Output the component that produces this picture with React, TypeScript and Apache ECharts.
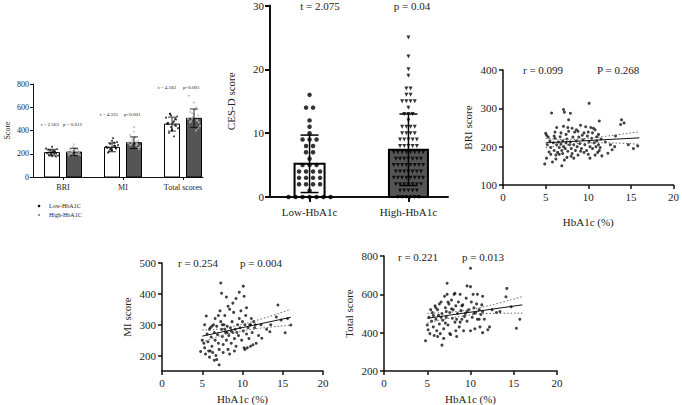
import React, { useEffect, useRef } from 'react';
import * as echarts from 'echarts';

// ---------- Panel A: grouped bar chart ----------
const GROUPS_A = ['BRI', 'MI', 'Total scores'];
const LOW_MEANS_A = [210, 255, 455];
const HIGH_MEANS_A = [215, 295, 505];
const LOW_SD_A = [28, 38, 60];
const HIGH_SD_A = [32, 50, 80];
const LOW_DOTS_A = [
  [210, 225, 195, 240, 205, 180, 215, 230, 200, 190, 220, 245, 185, 212, 198, 235, 175, 260, 205, 218],
  [255, 270, 240, 300, 250, 230, 265, 285, 245, 220, 335, 260, 275, 240, 295, 210, 250, 310, 235, 262],
  [455, 480, 430, 520, 460, 400, 500, 540, 440, 380, 470, 510, 420, 545, 350, 465, 495, 410, 530, 445],
];
const HIGH_DOTS_A = [
  [215, 230, 200, 250, 210, 190, 225, 240, 205, 195, 280, 185, 220, 235, 200, 260, 210, 190, 225, 245],
  [295, 310, 280, 340, 290, 260, 320, 300, 275, 250, 430, 305, 285, 360, 270, 330, 240, 300, 390, 280],
  [505, 530, 480, 580, 500, 440, 550, 600, 470, 420, 640, 520, 490, 560, 400, 515, 470, 700, 540, 485],
];
const STATS_A = [
  ['t = 2.563', 'p = 0.012'],
  ['t = 4.335', 'p<0.001'],
  ['t = 4.183', 'p<0.001'],
];

// ---------- Panel B: CES-D ----------
const CESD_GROUPS = ['Low-HbA1c', 'High-HbA1c'];
const CESD_MEANS = [5.2, 7.4];
const CESD_SD = [4.5, 5.6];
const CESD_LOW = [16, 14, 14, 12, 11, 10, 9, 9, 9, 8, 8, 7, 7, 6, 5, 5, 5, 4, 4, 4, 4, 3, 3, 3, 3, 2, 2, 2, 2, 1, 0, 0, 0, 0, 0, 0, 0];
const CESD_HIGH = [25, 22, 20, 19, 17, 17, 16, 16, 15, 15, 15, 15, 14, 13, 13, 13, 12, 11, 11, 11, 11, 10, 10, 10, 10, 9, 9, 9, 9, 9,
  8, 8, 8, 8, 8, 7, 7, 7, 7, 7, 7, 7, 7, 6, 6, 6, 6, 6, 6, 6, 5, 5, 5, 5, 5, 5, 5, 5, 4, 4, 4, 4, 4, 4, 4,
  3, 3, 3, 3, 3, 3, 3, 3, 2, 2, 2, 2, 2, 2, 2, 1, 1, 1, 1, 1, 0, 0, 0, 0, 0, 0];

// ---------- Panel C: BRI vs HbA1c ----------
const BRI_POINTS = [
  [10.1, 313], [5.7, 288], [7.1, 297], [7.2, 290], [7.9, 287], [7.7, 270], [13.9, 270], [13.8, 258], [11.3, 267], [5.0, 235],
  [5.1, 230], [6.3, 250], [7.1, 253], [7.6, 250], [8.1, 248], [9.7, 252], [10.3, 250], [10.6, 248], [10.8, 244], [9.1, 256],
  [8.8, 240], [8.4, 238], [6.1, 238], [6.8, 236], [7.4, 232], [9.5, 236], [10.0, 238], [11.2, 232], [11.0, 226], [13.2, 228],
  [4.9, 155], [5.1, 170], [5.8, 160], [6.2, 168], [6.9, 150], [7.2, 165], [7.5, 172], [8.0, 175], [8.3, 170], [8.8, 178],
  [9.5, 185], [10.2, 170], [10.8, 178], [11.6, 176], [12.3, 183], [12.8, 192], [14.7, 205], [15.3, 195], [15.8, 202], [12.6, 205],
  [13.1, 200], [5.2, 205], [5.5, 215], [5.6, 198], [5.9, 210], [6.0, 190], [6.1, 222], [6.3, 205], [6.4, 185], [6.5, 212],
  [6.6, 198], [6.7, 226], [6.8, 207], [6.9, 190], [7.0, 215], [7.1, 200], [7.3, 195], [7.4, 210], [7.5, 220], [7.6, 188],
  [7.8, 205], [7.9, 212], [8.0, 195], [8.2, 225], [8.3, 205], [8.5, 190], [8.6, 215], [8.7, 200], [8.9, 225], [9.0, 208],
  [9.2, 195], [9.4, 218], [9.6, 205], [9.8, 190], [9.9, 228], [10.1, 212], [10.2, 200], [10.4, 222], [10.5, 195], [10.7, 210],
  [10.9, 200], [11.0, 215], [11.2, 205], [11.3, 190], [11.5, 220], [11.4, 198], [12.0, 212], [6.2, 178], [6.6, 180], [7.0, 182],
  [5.4, 186], [5.6, 180], [8.1, 182], [9.1, 188], [10.0, 180], [11.1, 185], [7.7, 240], [8.6, 244], [9.3, 230], [10.5, 236],
  [6.0, 228], [5.3, 225], [14.2, 262],
];
const BRI_FIT = [[5, 210], [16, 223]];
const BRI_UPPER = [[5, 222], [7, 219], [9.5, 221], [12, 227], [16, 239]];
const BRI_LOWER = [[5, 198], [7, 203], [9.5, 209], [12, 210], [16, 206]];

// ---------- Panel D: MI vs HbA1c ----------
const MI_POINTS = [
  [7.3, 435], [10.1, 425], [7.4, 402], [9.6, 405], [10.2, 392], [8.0, 390], [14.4, 364], [5.5, 328], [15.3, 274], [16.0, 299],
  [13.4, 277], [12.4, 256], [6.8, 187], [4.8, 213], [5.0, 250], [5.2, 240], [5.3, 225], [5.4, 205], [5.6, 270], [5.7, 245],
  [5.8, 215], [5.9, 195], [6.0, 290], [6.1, 260], [6.2, 230], [6.3, 210], [6.4, 300], [6.5, 275], [6.6, 250], [6.7, 200],
  [6.8, 295], [6.9, 268], [7.0, 240], [7.1, 220], [7.2, 345], [7.3, 310], [7.4, 285], [7.5, 262], [7.6, 236], [7.7, 300],
  [7.8, 330], [7.9, 275], [8.0, 250], [8.1, 295], [8.2, 220], [8.3, 265], [8.4, 350], [8.5, 290], [8.6, 240], [8.7, 310],
  [8.8, 275], [8.9, 340], [9.0, 255], [9.1, 285], [9.2, 230], [9.4, 300], [9.5, 265], [9.7, 290], [9.9, 250], [10.0, 310],
  [10.1, 280], [10.2, 225], [10.3, 300], [10.4, 330], [10.5, 270], [10.6, 225], [10.7, 290], [10.8, 255], [11.0, 300], [11.1, 320],
  [11.2, 275], [11.3, 235], [11.4, 310], [11.5, 290], [11.7, 240], [12.0, 265], [12.3, 300], [13.0, 285], [13.5, 300], [14.2, 325],
  [14.8, 315], [15.6, 320], [6.2, 295], [6.6, 320], [7.0, 330], [7.5, 300], [8.2, 360], [8.8, 370], [9.2, 385], [9.8, 345],
  [10.5, 355], [6.0, 215], [6.5, 185], [7.1, 170], [7.6, 210], [8.4, 205], [9.0, 215], [10.3, 220], [11.0, 230], [5.3, 300],
  [5.9, 285], [8.6, 280], [9.3, 275], [9.6, 320], [10.9, 300], [11.6, 300], [7.8, 285], [8.1, 275],
];
const MI_FIT = [[5, 263], [16, 324]];
const MI_UPPER = [[5, 283], [7, 286], [9, 295], [12, 316], [16, 350]];
const MI_LOWER = [[5, 243], [7, 262], [9, 275], [12, 288], [16, 298]];

// ---------- Panel E: Total vs HbA1c ----------
const TOTAL_POINTS = [
  [10.0, 736], [7.3, 658], [9.6, 644], [10.0, 640], [14.2, 631], [14.1, 587], [11.4, 590], [4.8, 358], [6.7, 335], [15.7, 470],
  [15.3, 423], [5.0, 440], [5.1, 415], [5.2, 480], [5.3, 395], [5.5, 460], [5.6, 505], [5.7, 430], [5.8, 385], [5.9, 540],
  [6.0, 470], [6.1, 410], [6.2, 520], [6.3, 490], [6.4, 445], [6.5, 395], [6.6, 560], [6.7, 500], [6.8, 465], [6.9, 420],
  [7.0, 590], [7.1, 530], [7.2, 480], [7.3, 600], [7.4, 440], [7.5, 550], [7.6, 505], [7.7, 390], [7.8, 570], [7.9, 475],
  [8.0, 520], [8.1, 600], [8.2, 455], [8.3, 540], [8.4, 380], [8.5, 500], [8.6, 560], [8.7, 430], [8.8, 600], [8.9, 515],
  [9.0, 470], [9.1, 545], [9.2, 410], [9.4, 500], [9.5, 580], [9.6, 460], [9.8, 520], [10.0, 410], [10.1, 560], [10.2, 480],
  [10.3, 600], [10.4, 530], [10.5, 420], [10.6, 505], [10.7, 550], [10.8, 470], [11.0, 520], [11.1, 430], [11.2, 495], [11.3, 545],
  [11.4, 400], [11.6, 470], [12.0, 415], [12.5, 520], [13.0, 505], [13.4, 510], [14.7, 535], [6.2, 380], [6.9, 370], [7.6, 395],
  [8.3, 410], [5.4, 520], [6.0, 530], [6.6, 480], [7.2, 510], [7.8, 525], [8.4, 470], [9.0, 540], [9.6, 510], [10.4, 500],
  [11.0, 470], [11.4, 510], [12.2, 430], [8.8, 455], [9.3, 485], [7.4, 560], [6.4, 550], [5.7, 490], [10.8, 600], [8.2, 605],
  [7.1, 450],
];
const TOTAL_FIT = [[5, 475], [16, 545]];
const TOTAL_UPPER = [[5, 500], [7, 505], [9, 514], [12, 540], [16, 588]];
const TOTAL_LOWER = [[5, 450], [7, 471], [9, 486], [12, 500], [16, 502]];

const X_TICKS = [0, 5, 10, 15, 20];

// ---------- styling / layout helpers ----------
const FONT = 'Liberation Serif';
const INK = '#222';
const JITTER = [-4, 2, -1, 5, -5, 0, 3, -2, 4, -3, 1, -6, 6, -2, 2, -4, 4, 0, -1, 3];

function swarm(values: number[], spacing: number) {
  const counts: Record<number, number> = {};
  values.forEach((v) => (counts[v] = (counts[v] || 0) + 1));
  const seen: Record<number, number> = {};
  return values.map((v) => {
    const j = (seen[v] = (seen[v] ?? -1) + 1);
    return (j - (counts[v] - 1) / 2) * spacing;
  });
}

const barRender = (dx: number, widths: number[], fills: string[], lw: number) => (params: any, api: any) => {
  const x = api.value(0);
  const v = api.value(1);
  const base = api.coord([x, 0]);
  const top = api.coord([x, v]);
  const i = params.dataIndex;
  const w = widths[i % widths.length];
  return {
    type: 'rect',
    shape: { x: base[0] + dx - w / 2, y: top[1], width: w, height: base[1] - top[1] },
    style: { fill: fills[i % fills.length], stroke: '#000', lineWidth: lw },
  };
};

const errRender = (dx: number, cap: number, lw: number) => (params: any, api: any) => {
  const x = api.value(0);
  const m = api.value(1);
  const s = api.value(2);
  const hi = api.coord([x, m + s]);
  const lo = api.coord([x, m - s]);
  const cx = hi[0] + dx;
  const st = { stroke: '#000', lineWidth: lw };
  return {
    type: 'group',
    children: [
      { type: 'line', shape: { x1: cx, y1: hi[1], x2: cx, y2: lo[1] }, style: st },
      { type: 'line', shape: { x1: cx - cap / 2, y1: hi[1], x2: cx + cap / 2, y2: hi[1] }, style: st },
      { type: 'line', shape: { x1: cx - cap / 2, y1: lo[1], x2: cx + cap / 2, y2: lo[1] }, style: st },
    ],
  };
};

const txt = (x: number, y: number, text: string, size: number, align = 'left') => ({
  type: 'text',
  x,
  y,
  style: { text, fontSize: size, fontFamily: FONT, fill: INK, align, verticalAlign: 'middle' },
});

function scatterPanel(idx: number, points: number[][], fit: number[][], upper: number[][], lower: number[][]) {
  return [
    {
      type: 'scatter', xAxisIndex: idx, yAxisIndex: idx, data: points, symbolSize: 3,
      itemStyle: { color: '#111' }, z: 3,
    },
    {
      type: 'line', xAxisIndex: idx, yAxisIndex: idx, data: fit, showSymbol: false,
      lineStyle: { color: '#111', width: 1 }, z: 4,
    },
    {
      type: 'line', xAxisIndex: idx, yAxisIndex: idx, data: upper, showSymbol: false, smooth: true,
      lineStyle: { color: '#666', width: 1, type: [1.5, 2] }, z: 4,
    },
    {
      type: 'line', xAxisIndex: idx, yAxisIndex: idx, data: lower, showSymbol: false, smooth: true,
      lineStyle: { color: '#666', width: 1, type: [1.5, 2] }, z: 4,
    },
  ];
}

const axisCommon = (lw: number, tickLen: number, size: number, margin: number) => ({
  axisLine: { show: true, onZero: false, lineStyle: { color: '#111', width: lw } },
  axisTick: { show: true, inside: false, length: tickLen, lineStyle: { color: '#111', width: lw } },
  axisLabel: { color: INK, fontFamily: FONT, fontSize: size, margin },
  splitLine: { show: false },
  nameTextStyle: { color: INK, fontFamily: FONT, fontSize: size },
});

export default function App() {
  const ref = useRef<HTMLDivElement>(null);
  useEffect(() => {
    if (!ref.current) return;
    const chart = echarts.init(ref.current, undefined, { renderer: 'svg' });

    const catA = GROUPS_A.map((_, i) => i + 0.5);
    const catB = CESD_GROUPS.map((_, i) => i + 0.4);

    const lowOffB = swarm(CESD_LOW, 7);
    const highOffB = swarm(CESD_HIGH, 4.2);

    const xA = axisCommon(1, 3, 8, 6);
    const yA = axisCommon(1, 3, 8, 4);
    const xB = axisCommon(2, 5, 11, 9);
    const yB = axisCommon(2, 5, 11, 6);
    const xS = axisCommon(1.5, 4, 11, 6);
    const yS = axisCommon(1.5, 4, 11, 6);

    const option: any = {
      animation: false,
      textStyle: { fontFamily: FONT },
      grid: [
        { left: 33, top: 84, width: 170, height: 93 },
        { left: 270, top: 2, width: 178, height: 195 },
        { left: 503, top: 70, width: 177, height: 115 },
        { left: 162, top: 263, width: 161, height: 108 },
        { left: 384, top: 256, width: 173, height: 115 },
      ],
      xAxis: [
        {
          ...xA, gridIndex: 0, type: 'value', min: 0, max: 170 / 60,
          axisTick: { ...xA.axisTick, customValues: catA },
          axisLabel: { ...xA.axisLabel, customValues: catA, formatter: (v: number) => GROUPS_A[Math.floor(v)] ?? '' },
        },
        {
          ...xB, gridIndex: 1, type: 'value', min: 0, max: 1.8,
          axisTick: { ...xB.axisTick, customValues: catB },
          axisLabel: { ...xB.axisLabel, customValues: catB, formatter: (v: number) => CESD_GROUPS[Math.round(v - 0.4)] ?? '' },
        },
        {
          ...xS, gridIndex: 2, type: 'value', min: 0, max: 20, interval: 5,
          name: 'HbA1c (%)', nameLocation: 'middle', nameGap: 31,
        },
        {
          ...xS, gridIndex: 3, type: 'value', min: 0, max: 20, interval: 5,
          name: 'HbA1c (%)', nameLocation: 'middle', nameGap: 22,
        },
        {
          ...xS, gridIndex: 4, type: 'value', min: 0, max: 20, interval: 5,
          name: 'HbA1c (%)', nameLocation: 'middle', nameGap: 22,
        },
      ],
      yAxis: [
        {
          ...yA, gridIndex: 0, type: 'value', min: 0, max: 800, interval: 200,
          name: 'Score', nameLocation: 'middle', nameGap: 22,
        },
        {
          ...yB, gridIndex: 1, type: 'value', min: 0, max: 30, interval: 10,
          name: 'CES-D score', nameLocation: 'middle', nameGap: 34,
        },
        {
          ...yS, gridIndex: 2, type: 'value', min: 100, max: 400, interval: 100,
          name: 'BRI score', nameLocation: 'middle', nameGap: 30,
        },
        {
          ...yS, gridIndex: 3, type: 'value', min: 150, max: 500,
          axisTick: { ...yS.axisTick, customValues: [200, 300, 400, 500] },
          axisLabel: { ...yS.axisLabel, customValues: [200, 300, 400, 500] },
          name: 'MI score', nameLocation: 'middle', nameGap: 30,
        },
        {
          ...yS, gridIndex: 4, type: 'value', min: 200, max: 800, interval: 200,
          name: 'Total score', nameLocation: 'middle', nameGap: 30,
        },
      ],
      series: [
        // Panel A
        {
          type: 'custom', name: 'Low-HbA1C', xAxisIndex: 0, yAxisIndex: 0, z: 2,
          renderItem: barRender(-11, [15], ['#fff'], 1),
          data: LOW_MEANS_A.map((m, i) => [catA[i], m]),
        },
        {
          type: 'custom', name: 'High-HbA1C', xAxisIndex: 0, yAxisIndex: 0, z: 2,
          renderItem: barRender(11, [15], ['#555'], 1),
          data: HIGH_MEANS_A.map((m, i) => [catA[i], m]),
        },
        {
          type: 'scatter', xAxisIndex: 0, yAxisIndex: 0, symbolSize: 2, z: 3,
          itemStyle: { color: '#111' },
          data: LOW_DOTS_A.flatMap((arr, i) =>
            arr.map((v, j) => ({ value: [catA[i], v], symbolOffset: [-11 + JITTER[j % JITTER.length], 0] }))),
        },
        {
          type: 'scatter', xAxisIndex: 0, yAxisIndex: 0, symbolSize: 2, z: 3,
          itemStyle: { color: '#bbb' },
          data: HIGH_DOTS_A.flatMap((arr, i) =>
            arr.map((v, j) => ({ value: [catA[i], v], symbolOffset: [11 + JITTER[(j + 7) % JITTER.length], 0] }))),
        },
        {
          type: 'custom', xAxisIndex: 0, yAxisIndex: 0, z: 4,
          renderItem: errRender(-11, 8, 0.8),
          data: LOW_MEANS_A.map((m, i) => [catA[i], m, LOW_SD_A[i]]),
        },
        {
          type: 'custom', xAxisIndex: 0, yAxisIndex: 0, z: 4,
          renderItem: errRender(11, 8, 0.8),
          data: HIGH_MEANS_A.map((m, i) => [catA[i], m, HIGH_SD_A[i]]),
        },
        // Panel B
        {
          type: 'custom', xAxisIndex: 1, yAxisIndex: 1, z: 2,
          renderItem: barRender(0, [30, 39], ['#fff', '#555'], 2),
          data: CESD_MEANS.map((m, i) => [catB[i], m]),
        },
        {
          type: 'scatter', xAxisIndex: 1, yAxisIndex: 1, symbolSize: 4.5, z: 3,
          itemStyle: { color: '#000' },
          data: CESD_LOW.map((v, j) => ({ value: [catB[0], v], symbolOffset: [lowOffB[j], 0] })),
        },
        {
          type: 'scatter', xAxisIndex: 1, yAxisIndex: 1, symbol: 'triangle', symbolRotate: 180, symbolSize: 4, z: 3,
          itemStyle: { color: '#000' },
          data: CESD_HIGH.map((v, j) => ({ value: [catB[1], v], symbolOffset: [highOffB[j], 0] })),
        },
        {
          type: 'custom', xAxisIndex: 1, yAxisIndex: 1, z: 4,
          renderItem: errRender(0, 18, 1.5),
          data: CESD_MEANS.map((m, i) => [catB[i], m, CESD_SD[i]]),
        },
        // Panels C, D, E
        ...scatterPanel(2, BRI_POINTS, BRI_FIT, BRI_UPPER, BRI_LOWER),
        ...scatterPanel(3, MI_POINTS, MI_FIT, MI_UPPER, MI_LOWER),
        ...scatterPanel(4, TOTAL_POINTS, TOTAL_FIT, TOTAL_UPPER, TOTAL_LOWER),
      ],
      graphic: [
        // Panel A stats
        txt(41, 124, STATS_A[0][0], 5), txt(63, 124, STATS_A[0][1], 5),
        txt(100, 114, STATS_A[1][0], 5), txt(124, 114, STATS_A[1][1], 5),
        txt(158, 87, STATS_A[2][0], 5), txt(183, 87, STATS_A[2][1], 5),
        // Panel A legend
        { type: 'circle', shape: { cx: 39, cy: 206, r: 1.3 }, style: { fill: '#111' } },
        { type: 'circle', shape: { cx: 39, cy: 215, r: 0.8 }, style: { fill: '#555' } },
        txt(49, 206, 'Low-HbA1C', 6), txt(49, 215, 'High-HbA1C', 6),
        // Panel B stats
        txt(320, 6, 't = 2.075', 11, 'center'), txt(412, 6, 'p = 0.04', 11, 'center'),
        // Panel C
        txt(523, 70, 'r = 0.099', 11), txt(597, 70, 'P = 0.268', 11),
        // Panel D
        txt(178, 263, 'r = 0.254', 11), txt(240, 263, 'p = 0.004', 11),
        // Panel E
        txt(398, 257, 'r = 0.221', 11), txt(462, 257, 'p = 0.013', 11),
      ],
    };
    chart.setOption(option);
    return () => chart.dispose();
  }, []);
  return (
    <div
      ref={ref}
      style={{ position: 'fixed', left: 0, top: 0, width: 682, height: 405, background: '#fff' }}
    />
  );
}
